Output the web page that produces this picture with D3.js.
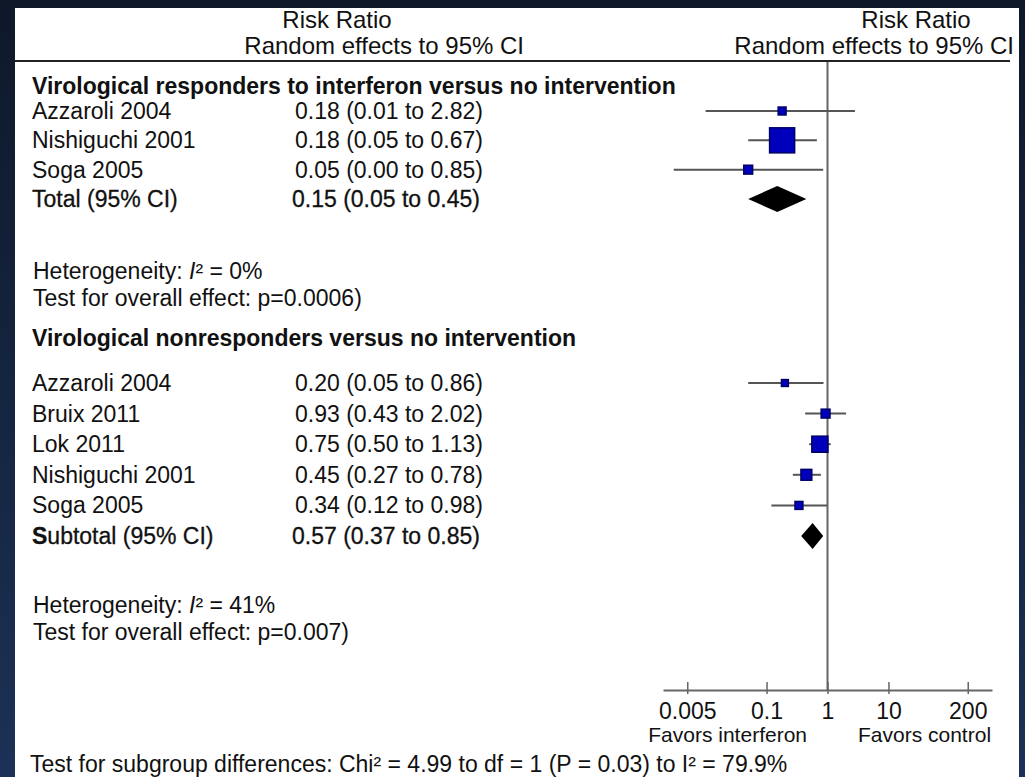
<!DOCTYPE html>
<html>
<head>
<meta charset="utf-8">
<script src="https://cdn.jsdelivr.net/npm/d3@7.9.0/dist/d3.min.js"></script>
<style>
  html, body { margin: 0; padding: 0; background: #13213a; }
  svg { display: block; }
  text { font-family: 'Liberation Sans', Arial, sans-serif; fill: #111; }
</style>
</head>
<body>
<svg id="chart" width="1025" height="777"></svg>
<script>
// subgroup 1: responders to interferon
const group1Title = 'Virological responders to interferon versus no intervention';
const group1Studies = ['Azzaroli 2004', 'Nishiguchi 2001', 'Soga 2005'];
const group1RR = [0.18, 0.18, 0.05];
const group1Low = [0.01, 0.05, 0.003];
const group1High = [2.82, 0.67, 0.85];
const group1Weight = [8, 80, 10];
const group1Pooled = [0.15, 0.05, 0.45];
const group1Stats = ['0%', 'p=0.0006)'];

// subgroup 2: nonresponders
const group2Title = 'Virological nonresponders versus no intervention';
const group2Studies = ['Azzaroli 2004', 'Bruix 2011', 'Lok 2011', 'Nishiguchi 2001', 'Soga 2005'];
const group2RR = [0.20, 0.93, 0.75, 0.45, 0.34];
const group2Low = [0.05, 0.43, 0.50, 0.27, 0.12];
const group2High = [0.86, 2.02, 1.13, 0.78, 0.98];
const group2Weight = [6, 10, 33, 15, 8];
const group2Pooled = [0.57, 0.37, 0.85];
const group2Stats = ['41%', 'p=0.007)'];

const axisTicks = [0.005, 0.1, 1, 10, 200];
const favorsLeft = 'Favors interferon';
const favorsRight = 'Favors control';
const footnote = 'Test for subgroup differences: Chi² = 4.99 to df = 1 (P = 0.03) to I² = 79.9%';

const fmt = d3.format('.2f');
const ciText = (m, l, h) => `${fmt(m)} (${fmt(l)} to ${fmt(h)})`;

const svg = d3.select('#chart');

const defs = svg.append('defs');
const grad = defs.append('linearGradient').attr('id', 'bg').attr('x1', 0).attr('y1', 0).attr('x2', 0).attr('y2', 1);
grad.append('stop').attr('offset', '0%').attr('stop-color', '#0e1829');
grad.append('stop').attr('offset', '100%').attr('stop-color', '#1c3156');

svg.append('rect').attr('width', 1025).attr('height', 777).attr('fill', 'url(#bg)');
svg.append('rect').attr('x', 15).attr('y', 8).attr('width', 1004).attr('height', 780).attr('fill', '#fff');

const x = d3.scaleLog().domain([0.002, 500]).range([663, 992]);
const sideScale = d3.scaleSqrt().domain([0, 100]).range([0, 28]);

// headers
const header = svg.append('g').style('font-size', '24px');
header.append('text').attr('x', 337).attr('y', 28).attr('text-anchor', 'middle').text('Risk Ratio');
header.append('text').attr('x', 524).attr('y', 54).attr('text-anchor', 'end').text('Random effects to 95% CI');
header.append('text').attr('x', 916).attr('y', 28).attr('text-anchor', 'middle').text('Risk Ratio');
header.append('text').attr('x', 1014).attr('y', 54).attr('text-anchor', 'end').text('Random effects to 95% CI');
svg.append('line').attr('x1', 15).attr('x2', 1010).attr('y1', 61).attr('y2', 61)
  .attr('stroke', '#222').attr('stroke-width', 2);

// line of no effect
svg.append('line').attr('x1', x(1)).attr('x2', x(1)).attr('y1', 62).attr('y2', 690)
  .attr('stroke', '#666').attr('stroke-width', 2);

function drawGroup(cfg) {
  const g = svg.append('g').style('font-size', '23px');
  const n = cfg.studies.length;
  const y = d3.scaleLinear().domain([0, n]).range(cfg.yRange);

  g.append('text').attr('x', 32).attr('y', cfg.titleY)
    .style('font-weight', 'bold').style('font-size', '23px').text(cfg.title);

  const rows = cfg.studies.map((s, i) => ({
    name: s, rr: cfg.rr[i], lo: cfg.lo[i], hi: cfg.hi[i], w: cfg.w[i], i,
  }));

  g.selectAll('text.study').data(rows).join('text').attr('class', 'study')
    .attr('x', 32).attr('y', (d) => y(d.i) + 8).text((d) => d.name);
  g.selectAll('text.ci').data(rows).join('text').attr('class', 'ci')
    .attr('x', 295).attr('y', (d) => y(d.i) + 8).text((d) => ciText(d.rr, d.lo, d.hi));

  g.selectAll('line.ci').data(rows).join('line').attr('class', 'ci')
    .attr('x1', (d) => x(d.lo)).attr('x2', (d) => x(d.hi))
    .attr('y1', (d) => y(d.i)).attr('y2', (d) => y(d.i))
    .attr('stroke', '#555').attr('stroke-width', 2);

  g.selectAll('rect.box').data(rows).join('rect').attr('class', 'box')
    .attr('x', (d) => x(d.rr) - sideScale(d.w) / 2)
    .attr('y', (d) => y(d.i) - sideScale(d.w) / 2)
    .attr('width', (d) => sideScale(d.w)).attr('height', (d) => sideScale(d.w))
    .attr('fill', '#0000bc').attr('stroke', '#000066').attr('stroke-width', 1.5);

  // pooled row
  const [pm, pl, ph] = cfg.pooled;
  const py = y(n);
  const tot = g.append('text').attr('x', 32).attr('y', py + 8)
    .attr('stroke', '#111').attr('stroke-width', 0.3);
  if (cfg.subtotal) {
    tot.append('tspan').style('font-weight', 'bold').text('S');
    tot.append('tspan').text('ubtotal (95% CI)');
  } else {
    tot.text('Total (95% CI)');
  }
  g.append('text').attr('x', 292).attr('y', py + 8)
    .attr('stroke', '#111').attr('stroke-width', 0.3).text(ciText(pm, pl, ph));
  g.append('path')
    .attr('d', `M${x(pl)},${py} L${x(pm)},${py - 13} L${x(ph)},${py} L${x(pm)},${py + 13} Z`)
    .attr('fill', '#000');

  const het = g.append('text').attr('x', 33).attr('y', cfg.hetY);
  het.append('tspan').text(cfg.subtotal ? 'Heterogeneity: ' : 'Heterogeneity:  ');
  het.append('tspan').style('font-style', 'italic').text('I');
  het.append('tspan').text('² = ' + cfg.stats[0]);
  g.append('text').attr('x', 33).attr('y', cfg.hetY + 27).text('Test for overall effect: ' + cfg.stats[1]);
}

drawGroup({
  title: group1Title, titleY: 94, yRange: [111, 199],
  studies: group1Studies, rr: group1RR, lo: group1Low, hi: group1High, w: group1Weight,
  pooled: group1Pooled, stats: group1Stats, hetY: 279, subtotal: false,
});

drawGroup({
  title: group2Title, titleY: 346, yRange: [383, 536],
  studies: group2Studies, rr: group2RR, lo: group2Low, hi: group2High, w: group2Weight,
  pooled: group2Pooled, stats: group2Stats, hetY: 613, subtotal: true,
});

// axis
const axis = d3.axisBottom(x)
  .tickValues(axisTicks)
  .tickFormat((d) => String(d))
  .tickSizeInner(-9)
  .tickSizeOuter(0)
  .tickPadding(13);

const ax = svg.append('g').attr('transform', 'translate(0,690)').call(axis);
ax.select('.domain').attr('stroke', '#666').attr('stroke-width', 2);
ax.selectAll('.tick line').attr('stroke', '#666').attr('stroke-width', 1.5).attr('y2', 4).attr('y1', -8);
ax.selectAll('.tick text').style('font-size', '23px').style('font-family', "'Liberation Sans', Arial, sans-serif").attr('fill', '#111');

const fav = svg.append('g').style('font-size', '21px');
fav.append('text').attr('x', 807).attr('y', 742).attr('text-anchor', 'end').text(favorsLeft);
fav.append('text').attr('x', 858).attr('y', 742).text(favorsRight);

svg.append('text').attr('x', 30).attr('y', 772).style('font-size', '23px').text(footnote);
</script>
</body>
</html>
